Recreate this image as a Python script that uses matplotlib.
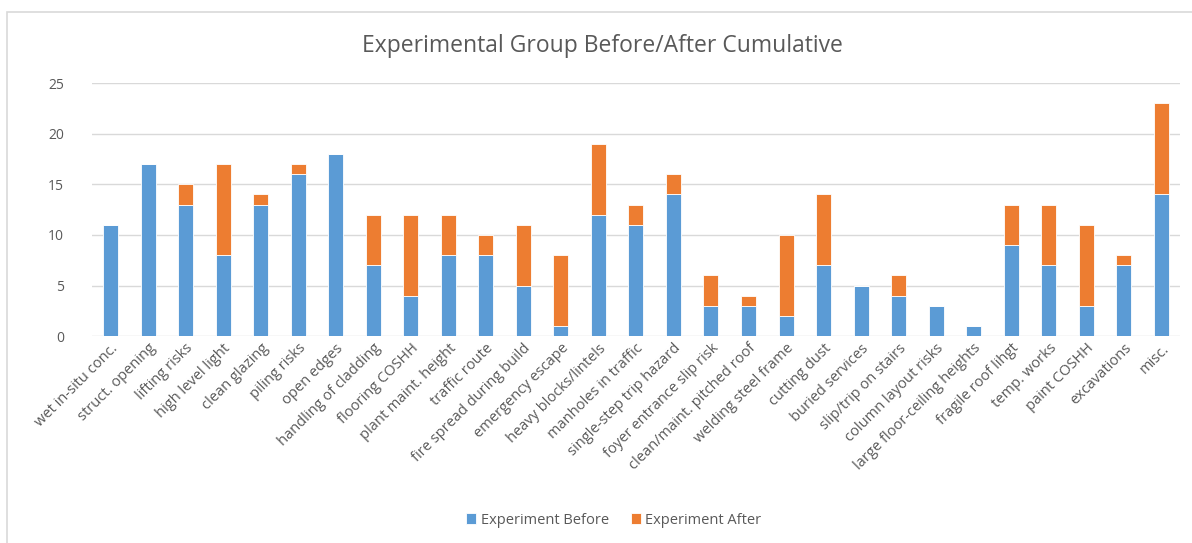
import matplotlib.pyplot as plt
import matplotlib
import numpy as np
from matplotlib.patches import Rectangle

categories = ['wet in-situ conc.', 'struct. opening', 'lifting risks', 'high level light',
              'clean glazing', 'piling risks', 'open edges', 'handling of cladding',
              'flooring COSHH', 'plant maint. height', 'traffic route', 'fire spread during build',
              'emergency escape', 'heavy blocks/lintels', 'manholes in traffic',
              'single-step trip hazard', 'foyer entrance slip risk', 'clean/maint. pitched roof',
              'welding steel frame', 'cutting dust', 'buried services', 'slip/trip on stairs',
              'column layout risks', 'large floor-ceiling heights', 'fragile roof lihgt',
              'temp. works', 'paint COSHH', 'excavations', 'misc.']
before = [11, 17, 13, 8, 13, 16, 18, 7, 4, 8, 8, 5, 1, 12, 11, 14, 3, 3, 2, 7, 5, 4, 3, 1, 9, 7, 3, 7, 14]
after = [0, 0, 2, 9, 1, 1, 0, 5, 8, 4, 2, 6, 7, 7, 2, 2, 3, 1, 8, 7, 0, 2, 0, 0, 4, 6, 8, 1, 9]

matplotlib.rcParams['font.family'] = ['Open Sans', 'DejaVu Sans']
text_color = '#595959'
blue = '#5B9BD5'
orange = '#ED7D31'

fig = plt.figure(figsize=(11.92, 5.43), dpi=100)
ax = fig.add_axes([0.077, 0.381, 0.913, 0.466])

x = np.arange(len(categories))
ax.bar(x, before, width=0.4, color=blue, edgecolor='white', linewidth=0.6, label='Experiment Before', zorder=2)
ax.bar(x, after, width=0.4, bottom=before, color=orange, edgecolor='white', linewidth=0.6,
       label='Experiment After', zorder=2)

ax.set_xlim(-0.5, len(categories) - 0.5)
ax.set_ylim(0, 25)
ax.set_yticks(np.arange(0, 26, 5))
ax.yaxis.grid(True, color='#d9d9d9', linewidth=1, zorder=0)
for s in ax.spines.values():
    s.set_visible(False)
ax.tick_params(axis='both', length=0, colors=text_color, labelsize=10.5)
ax.tick_params(axis='y', pad=20, labelsize=10)
ax.set_xticks(x)
ax.set_xticklabels(categories, rotation=45, ha='right', rotation_mode='anchor')

fig.text(0.505, 0.915, 'Experimental Group Before/After Cumulative', ha='center', va='center',
         fontsize=16.5, color=text_color)

fig.legend(loc='center', bbox_to_anchor=(0.515, 0.042), ncol=2, frameon=False, fontsize=10.5,
           handlelength=0.7, handleheight=0.7, columnspacing=1.5, handletextpad=0.3,
           labelcolor=text_color)

fig.patches.append(Rectangle((7 / 1192, -0.05), 1.1, 1 - 12 / 543 + 0.05, transform=fig.transFigure,
                             fill=False, edgecolor='#d9d9d9', linewidth=1.2))

plt.savefig('out.png', dpi=100)
